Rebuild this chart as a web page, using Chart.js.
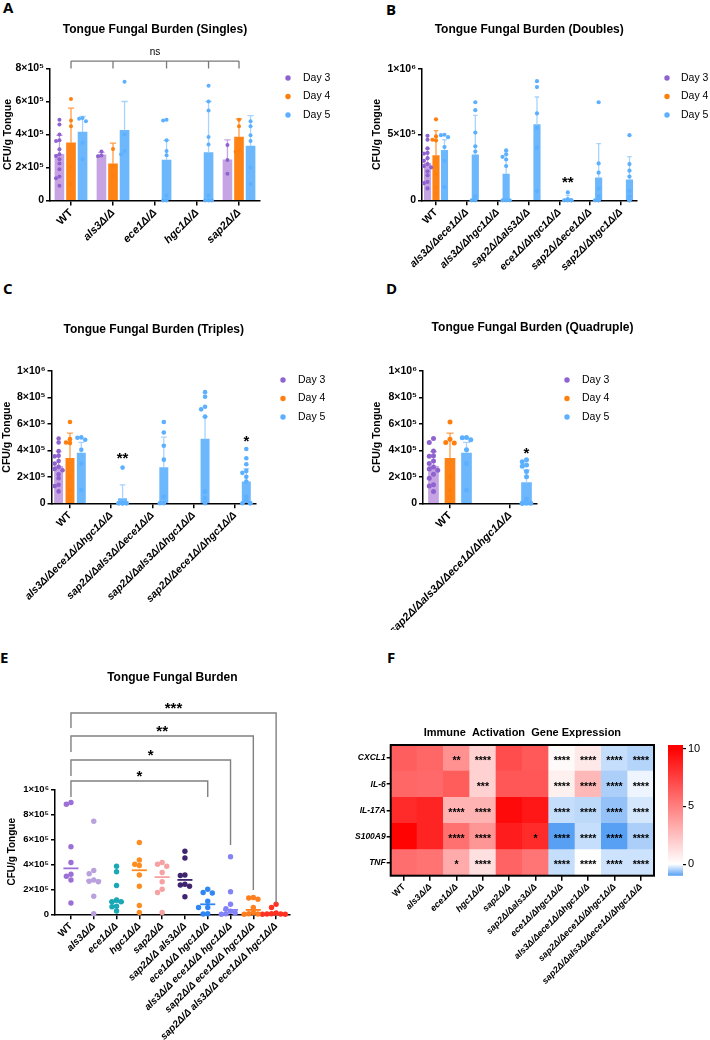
<!DOCTYPE html>
<html>
<head>
<meta charset="utf-8">
<title>Tongue fungal burden</title>
<script src="https://cdn.jsdelivr.net/npm/chart.js@4.4.1/dist/chart.umd.min.js"></script>
<style>
  html, body { margin: 0; background: #fff; }
  body { position: relative; width: 710px; height: 1040px; overflow: hidden; }
  canvas { position: absolute; }
  .tag { position: absolute; font: 700 15px/1 'Open Sans', sans-serif; color: #000; }
</style>
</head>
<body>
<div class="tag" style="left:3px;top:0px">A</div>
<div class="tag" style="left:386px;top:2px">B</div>
<div class="tag" style="left:3px;top:281px">C</div>
<div class="tag" style="left:386px;top:281px">D</div>
<div class="tag" style="left:0px;top:650px">E</div>
<div class="tag" style="left:387px;top:650px">F</div>

<canvas id="chartA" width="355" height="272" style="left:0;top:0"></canvas>
<canvas id="chartB" width="355" height="272" style="left:355px;top:0"></canvas>
<canvas id="chartC" width="355" height="360" style="left:0;top:270px"></canvas>
<canvas id="chartD" width="355" height="360" style="left:355px;top:270px"></canvas>
<canvas id="chartE" width="355" height="400" style="left:0;top:640px"></canvas>
<canvas id="chartF" width="355" height="400" style="left:355px;top:640px"></canvas>
<canvas id="chartScale" width="55" height="150" style="left:655px;top:735px"></canvas>

<script>
// all burdens are CFU/g tongue in units of 1e5
const dayLabels = ['Day 3', 'Day 4', 'Day 5'];

// A - singles
const singlesGroups = ['WT', 'als3Δ/Δ', 'ece1Δ/Δ', 'hgc1Δ/Δ', 'sap2Δ/Δ'];
const singlesMeanD3 = [2.8, 2.77, null, null, 2.47];
const singlesMeanD4 = [3.5, 2.23, null, null, 3.85];
const singlesMeanD5 = [4.15, 4.25, 2.45, 2.9, 3.3];
const singlesErrD3 = [1.15, 0.15, null, null, 1.2];
const singlesErrD4 = [2.1, 1.25, null, null, 1.1];
const singlesErrD5 = [0.95, 1.75, 1.2, 3.1, 1.85];
const singlesPtsD3 = [[4.9, 4.6, 4.0, 3.65, 3.6, 3.1, 2.8, 2.7, 2.5, 2.25, 1.9, 1.45, 1.35, 0.9], [2.97, 2.72, 2.68], [], [], [3.36, 2.45, 1.62]];
const singlesPtsD4 = [[6.15, 4.85, 4.5, 2.0, 1.0], [3.12, 2.1, 1.5], [], [], [4.9, 4.5, 3.05, 2.95]];
const singlesPtsD5 = [[5.0, 4.95, 4.8, 3.5, 2.5], [7.2, 4.0, 3.0, 2.8], [4.9, 4.85, 3.65, 3.0, 2.75, 0.3, 0, 0],
  [6.95, 6.0, 5.45, 3.85, 3.4, 0.3, 0, 0, 0], [4.8, 4.5, 3.95, 3.6, 2.0, 1.0]];

// WT control shown in B, C, D (day 3, 4, 5)
const wtMean = [2.8, 3.4, 3.8];
const wtErr = [1.1, 1.9, 0.8];
const wtPtsD3 = [4.9, 4.6, 3.95, 3.6, 3.55, 3.2, 3.0, 2.75, 2.6, 2.5, 2.2, 1.9, 1.4, 1.3, 0.9];
const wtPtsD4 = [6.15, 4.85, 4.6, 4.55, 2.0, 1.0, 0.5];
const wtPtsD5 = [4.98, 4.95, 4.8, 4.05, 3.0, 1.0];

// B - doubles (day 5 only)
const doublesGroups = ['WT', 'als3Δ/Δece1Δ/Δ', 'als3Δ/Δhgc1Δ/Δ', 'sap2Δ/Δals3Δ/Δ', 'ece1Δ/Δhgc1Δ/Δ', 'sap2Δ/Δece1Δ/Δ', 'sap2Δ/Δhgc1Δ/Δ'];
const doublesMeanD5 = [3.45, 2.0, 5.75, 0.12, 1.7, 1.55];
const doublesErrD5 = [3.0, 1.7, 2.1, 0.25, 2.6, 1.77];
const doublesPtsD5 = [[7.45, 6.85, 5.15, 4.1, 3.7, 0.3, 0, 0], [3.8, 3.5, 3.3, 3.1, 2.6, 0, 0, 0],
  [9.05, 8.6, 6.6, 5.5, 4.0, 0.7], [0.6, 0.1, 0, 0, 0, 0], [7.45, 2.8, 2.1, 0.9, 0.3, 0, 0, 0],
  [4.95, 2.75, 2.25, 1.8, 0.7, 0.3, 0, 0]];

// C - triples (day 5 only)
const triplesGroups = ['WT', 'als3Δ/Δece1Δ/Δhgc1Δ/Δ', 'sap2Δ/Δals3Δ/Δece1Δ/Δ', 'sap2Δ/Δals3Δ/Δhgc1Δ/Δ', 'sap2Δ/Δece1Δ/Δhgc1Δ/Δ'];
const triplesMeanD5 = [0.35, 2.7, 4.85, 1.62];
const triplesErrD5 = [1.05, 2.3, 1.7, 1.0];
const triplesPtsD5 = [[2.7, 0, 0, 0, 0, 0, 0, 0], [6.15, 5.35, 4.35, 3.3, 0.5, 0, 0],
  [8.4, 8.05, 7.3, 7.1, 6.55, 0.9, 0.4, 0], [4.1, 3.4, 2.95, 2.45, 2.3, 2.0, 1.65, 0.5, 0.2, 0, 0, 0]];

// D - quadruple (day 5 only)
const quadGroups = ['WT', 'sap2Δ/Δals3Δ/Δece1Δ/Δhgc1Δ/Δ'];
const quadMeanD5 = [1.56];
const quadErrD5 = [0.95];
const quadPtsD5 = [[3.3, 3.15, 2.9, 2.8, 2.4, 2.0, 0.3, 0, 0, 0, 0]];

// E - all strains, one time point
const eGroups = ['WT', 'als3Δ/Δ', 'ece1Δ/Δ', 'hgc1Δ/Δ', 'sap2Δ/Δ', 'sap2Δ/Δ als3Δ/Δ', 'ece1Δ/Δ hgc1Δ/Δ',
  'als3Δ/Δ ece1Δ/Δ hgc1Δ/Δ', 'sap2Δ/Δ ece1Δ/Δ hgc1Δ/Δ', 'sap2Δ/Δ als3Δ/Δ ece1Δ/Δ hgc1Δ/Δ'];
const ePoints = [
  [8.95, 8.8, 5.4, 4.15, 3.2, 3.05, 2.75, 0.9],
  [7.45, 3.5, 3.25, 2.75, 2.65, 2.6, 1.45, 0.05],
  [3.85, 3.4, 2.3, 1.15, 1.0, 1.0, 0.65, 0.6, 0.27],
  [5.75, 4.35, 4.0, 3.9, 3.15, 2.25, 0.7, 0.15],
  [4.15, 4.0, 3.85, 3.35, 2.6, 2.0, 1.75, 0.15],
  [5.05, 4.5, 3.15, 3.1, 2.4, 2.35, 2.25, 1.4],
  [2.0, 1.75, 1.7, 1.05, 0.55, 0.55, 0.05, 0.02],
  [4.6, 1.8, 0.8, 0.45, 0.25, 0.1, 0.05, 0],
  [1.35, 1.3, 1.2, 0.55, 0.15, 0.05, 0.02, 0],
  [0.8, 0.55, 0.1, 0.05, 0.03, 0.02, 0.01, 0]
];
const eColors = ['#9b6fd6', '#b8a1dd', '#19a8b5', '#fd8c21', '#f6a1a4', '#3f2570', '#2f86f5', '#8383f7', '#ff7f1f', '#ff3224'];
const eBrackets = [
  { to: 6, y: 10.66, left: 9.38, right: 9.38, text: '*' },
  { to: 7, y: 12.34, left: 11.06, right: 5.54, text: '*' },
  { to: 8, y: 14.26, left: 12.98, right: 1.94, text: '**' },
  { to: 9, y: 16.1, left: 14.9, right: 0.9, text: '***' }
];

// F - heat map (fold change)
const heatGenes = ['CXCL1', 'IL-6', 'IL-17A', 'S100A9', 'TNF'];
const heatStrains = ['WT', 'als3Δ/Δ', 'ece1Δ/Δ', 'hgc1Δ/Δ', 'sap2Δ/Δ', 'sap2Δ/Δals3Δ/Δ', 'ece1Δ/Δhgc1Δ/Δ',
  'als3Δ/Δece1Δ/Δhgc1Δ/Δ', 'sap2Δ/Δece1Δ/Δhgc1Δ/Δ', 'sap2Δ/Δals3Δ/Δece1Δ/Δhgc1Δ/Δ'];
const heatCXCL1 = [6.3, 6.0, 4.3, 1.8, 7.0, 6.5, 0.2, 0.9, -0.35, -0.45];
const heatIL6 = [6.0, 5.9, 6.4, 1.8, 6.6, 6.6, 0.6, 2.8, -0.5, -0.1];
const heatIL17A = [8.3, 8.6, 3.0, 3.0, 9.6, 9.1, -0.35, -0.4, -0.65, -0.25];
const heatS100A9 = [9.9, 8.6, 5.6, 4.1, 8.9, 8.3, -1.0, -0.35, -1.0, -0.5];
const heatTNF = [5.7, 5.5, 3.3, 1.2, 6.1, 5.4, -0.35, 0.05, -0.3, -0.3];
const starCXCL1 = ['', '', '**', '****', '', '', '****', '****', '****', '****'];
const starIL6 = ['', '', '', '***', '', '', '****', '****', '****', '****'];
const starIL17A = ['', '', '****', '****', '', '', '****', '****', '****', '****'];
const starS100A9 = ['', '', '****', '****', '', '*', '****', '****', '****', '****'];
const starTNF = ['', '', '*', '****', '', '', '****', '****', '****', '****'];
const cbarMin = -1, cbarMax = 10.3;
const cbarTicks = [0, 5, 10];

// ---------------------------------------------------------------
Chart.defaults.font.family = "'Liberation Sans', Arial, sans-serif";
Chart.defaults.color = '#000';

const DAY_OFF = [-0.275, 0, 0.275];
const DAY_BAR = ['#c6a4e3', '#ff8214', '#6db7fc'];
const DAY_PT = ['#8f63cf', '#ff7f0e', '#5cb0ff'];
const DAY_ERR = ['#c6a4e3', '#ff9d45', '#a8d3fc'];

function cfuTick(v) {
  if (v === 0) return '0';
  if (v >= 10) return (v / 10) + '×10⁶';
  return v + '×10⁵';
}

function heatColor(v) {
  if (v >= 0) {
    const t = Math.min(v / 10, 1);
    const c = Math.round(255 * (1 - t));
    return `rgb(255,${c},${c})`;
  }
  const t = Math.min(-v / 1.05, 1);
  return `rgb(${Math.round(255 - 175 * t)},${Math.round(255 - 100 * t)},${Math.round(255 - 12 * t)})`;
}

// spread overlapping dots sideways (only the x position is touched)
function swarm(vals, cx, pxX, pxY, r, maxK) {
  const placed = [];
  const step = 1.7 * r / pxX;
  return vals.map(v => {
    let best = null;
    for (let k = 0; k <= maxK * 2; k++) {
      const m = k === 0 ? 0 : (k % 2 ? -Math.ceil(k / 2) : k / 2);
      const x = cx + m * step;
      if (placed.every(p => Math.hypot((p.x - x) * pxX, (p.y - v) * pxY) >= 1.7 * r)) { best = x; break; }
    }
    if (best === null) best = cx + ((placed.length % 3) - 1) * step;
    const pt = { x: best, y: v };
    placed.push(pt);
    return pt;
  });
}

function median(arr) {
  const s = [...arr].sort((a, b) => a - b);
  const n = s.length;
  return n % 2 ? s[(n - 1) / 2] : (s[n / 2 - 1] + s[n / 2]) / 2;
}

const axisGrid = { drawOnChartArea: false, drawTicks: true, tickLength: 5, color: '#000', lineWidth: 1.5, offset: false };
const axisBorder = { color: '#000', width: 1.5 };

function padAxis(width) {
  return { position: 'right', display: true, grid: { display: false }, ticks: { display: false },
    border: { display: false }, afterFit: s => { s.width = width; } };
}

const errorBars = {
  id: 'errorBars',
  afterDatasetDraw(chart, args) {
    const ds = chart.data.datasets[args.index];
    if (!ds.errs) return;
    const { ctx, scales: { y } } = chart;
    ctx.save();
    ctx.strokeStyle = ds.errColor;
    ctx.lineWidth = 1.3;
    args.meta.data.forEach((el, i) => {
      const e = ds.errs[i];
      if (!e) return;
      const top = y.getPixelForValue(ds.data[i].y + e);
      const half = el.width * 0.35;
      ctx.beginPath();
      ctx.moveTo(el.x, el.y); ctx.lineTo(el.x, top);
      ctx.moveTo(el.x - half, top); ctx.lineTo(el.x + half, top);
      ctx.stroke();
    });
    ctx.restore();
  }
};

function legendDots(L) {
  return {
    id: 'legendDots',
    afterDraw(chart) {
      const ctx = chart.ctx;
      ctx.save();
      ctx.font = "10.5px 'Liberation Sans', Arial, sans-serif";
      ctx.textBaseline = 'middle';
      dayLabels.forEach((lab, i) => {
        const y = L.y + i * L.gap;
        ctx.fillStyle = DAY_PT[i];
        ctx.beginPath(); ctx.arc(L.x, y, 2.7, 0, Math.PI * 2); ctx.fill();
        ctx.fillStyle = '#000';
        ctx.fillText(lab, L.textX, y);
      });
      ctx.restore();
    }
  };
}

function drawStar(ctx, text, x, cy, size) {
  ctx.font = `bold ${size}px 'Liberation Sans', Arial, sans-serif`;
  ctx.textAlign = 'center';
  ctx.textBaseline = 'alphabetic';
  ctx.fillText(text, x, cy + size * 0.55);
}

function panelMarks(p) {
  return {
    id: 'panelMarks',
    afterDraw(chart) {
      const { ctx, scales: { x, y } } = chart;
      ctx.save();
      ctx.fillStyle = '#000';
      (p.stars || []).forEach(s => drawStar(ctx, s.text, x.getPixelForValue(s.group + DAY_OFF[2]), y.getPixelForValue(s.y), 15));
      if (p.bracket) {
        const b = p.bracket;
        const legs = p.groups.map((g, i) => {
          const offs = p.means.map((m, d) => (m[i] === null ? null : DAY_OFF[d])).filter(o => o !== null);
          return x.getPixelForValue(i + offs.reduce((a, c) => a + c, 0) / offs.length);
        });
        const yb = y.getPixelForValue(b.y), yl = y.getPixelForValue(b.legTo);
        ctx.strokeStyle = '#7a7a7a'; ctx.lineWidth = 1.3;
        ctx.beginPath();
        ctx.moveTo(legs[0], yb); ctx.lineTo(legs[legs.length - 1], yb);
        legs.forEach(lx => { ctx.moveTo(lx, yb); ctx.lineTo(lx, yl); });
        ctx.stroke();
        ctx.font = "10px 'Liberation Sans', Arial, sans-serif";
        ctx.textAlign = 'center'; ctx.textBaseline = 'middle';
        ctx.fillText(b.text, x.getPixelForValue(2), y.getPixelForValue(b.textY));
      }
      ctx.restore();
    }
  };
}

function barPanel(p) {
  const a = p.area;
  const pxX = (a.R - a.L) / (p.xmax - p.xmin);
  const pxY = (a.B - a.T) / p.yMax;
  const datasets = [];
  p.means.forEach((m, d) => {
    const data = [], errs = [];
    m.forEach((v, g) => {
      if (v !== null) { data.push({ x: g + DAY_OFF[d], y: v }); errs.push(p.errs[d][g]); }
    });
    datasets.push({ type: 'bar', label: dayLabels[d], data, errs, errColor: DAY_ERR[d],
      backgroundColor: DAY_BAR[d], borderWidth: 0, barThickness: p.barW, grouped: false, order: 1 });
  });
  p.points.forEach((grp, d) => {
    const data = [];
    grp.forEach((vals, g) => { data.push(...swarm(vals, g + DAY_OFF[d], pxX, pxY, p.ptR, 1)); });
    datasets.push({ type: 'scatter', label: dayLabels[d], data, pointRadius: p.ptR, pointBackgroundColor: DAY_PT[d],
      pointBorderWidth: 0, clip: false, order: 0 });
  });
  return new Chart(document.getElementById(p.id), {
    type: 'bar',
    data: { datasets },
    options: {
      responsive: false, animation: false, events: [], devicePixelRatio: 1,
      layout: { padding: 0 },
      plugins: {
        legend: { display: false }, tooltip: { enabled: false },
        title: { display: true, text: p.title, fullSize: p.titleFull, color: '#000',
          font: { size: 12, weight: 'bold' }, padding: { top: p.titleY - 7.2, bottom: a.T - p.titleY - 7.2 } }
      },
      scales: {
        x: {
          type: 'linear', min: p.xmin, max: p.xmax, offset: false,
          afterBuildTicks: s => { s.ticks = p.groups.map((g, i) => ({ value: i })); },
          afterFit: s => { s.height = p.h - a.B; },
          ticks: { autoSkip: false, minRotation: 45, maxRotation: 45, padding: 1, callback: v => p.groups[v],
            font: c => ({ size: p.xFont, weight: 'bold', style: c.index === 0 ? 'normal' : 'italic' }) },
          grid: axisGrid, border: axisBorder
        },
        y: {
          min: 0, max: p.yMax,
          afterFit: s => { s.width = a.L; },
          ticks: { stepSize: p.yStep, padding: 2, callback: cfuTick, font: { size: 10.5, weight: 'bold' } },
          grid: { ...axisGrid, tickLength: 4 }, border: axisBorder,
          title: { display: true, text: 'CFU/g Tongue', font: { size: 10.5, weight: 'bold' }, padding: { top: p.ylabelX - 6.3, bottom: 0 } }
        },
        yPad: padAxis(p.w - a.R)
      }
    },
    plugins: [errorBars, legendDots(p.legend), panelMarks(p)]
  });
}

const nulls = n => Array(n).fill(null);

barPanel({
  id: 'chartA', w: 355, h: 272, area: { L: 50, R: 260, T: 68.5, B: 200.5 },
  xmin: -0.5, xmax: 4.5, yMax: 8, yStep: 2, title: 'Tongue Fungal Burden (Singles)', titleY: 30, titleFull: false,
  ylabelX: 8.5, legend: { x: 288, y: 78, gap: 18.5, textX: 303 }, barW: 9, ptR: 2, xFont: 11,
  groups: singlesGroups,
  means: [singlesMeanD3, singlesMeanD4, singlesMeanD5],
  errs: [singlesErrD3, singlesErrD4, singlesErrD5],
  points: [singlesPtsD3, singlesPtsD4, singlesPtsD5],
  bracket: { y: 8.45, legTo: 8.0, text: 'ns', textY: 9.0 }
});

barPanel({
  id: 'chartB', w: 355, h: 272, area: { L: 67, R: 281.4, T: 68.7, B: 200.3 },
  xmin: -0.454, xmax: 6.5, yMax: 10, yStep: 5, title: 'Tongue Fungal Burden (Doubles)', titleY: 30, titleFull: false,
  ylabelX: 22, legend: { x: 312, y: 78, gap: 18.5, textX: 326 }, barW: 6.5, ptR: 2.1, xFont: 10.5,
  groups: doublesGroups,
  means: [[wtMean[0], ...nulls(6)], [wtMean[1], ...nulls(6)], [wtMean[2], ...doublesMeanD5]],
  errs: [[wtErr[0], ...nulls(6)], [wtErr[1], ...nulls(6)], [wtErr[2], ...doublesErrD5]],
  points: [[wtPtsD3, ...nulls(6).map(() => [])], [wtPtsD4, ...nulls(6).map(() => [])], [wtPtsD5, ...doublesPtsD5]],
  stars: [{ group: 4, y: 1.6, text: '**' }]
});

barPanel({
  id: 'chartC', w: 355, h: 360, area: { L: 51.5, R: 256, T: 101, B: 233.3 },
  xmin: -0.448, xmax: 4.51, yMax: 10, yStep: 2, title: 'Tongue Fungal Burden (Triples)', titleY: 60, titleFull: false,
  ylabelX: 7, legend: { x: 283, y: 110, gap: 18.5, textX: 298 }, barW: 8.3, ptR: 2.3, xFont: 10.5,
  groups: triplesGroups,
  means: [[wtMean[0], ...nulls(4)], [wtMean[1], ...nulls(4)], [wtMean[2], ...triplesMeanD5]],
  errs: [[wtErr[0], ...nulls(4)], [wtErr[1], ...nulls(4)], [wtErr[2], ...triplesErrD5]],
  points: [[wtPtsD3, [], [], [], []], [wtPtsD4, [], [], [], []], [wtPtsD5, ...triplesPtsD5]],
  stars: [{ group: 1, y: 3.65, text: '**' }, { group: 4, y: 4.95, text: '*' }]
});

barPanel({
  id: 'chartD', w: 355, h: 360, area: { L: 68, R: 182, T: 101, B: 233.3 },
  xmin: -0.45, xmax: 1.45, yMax: 10, yStep: 2, title: 'Tongue Fungal Burden (Quadruple)', titleY: 58, titleFull: true,
  ylabelX: 22, legend: { x: 212, y: 110, gap: 18.5, textX: 227 }, barW: 10, ptR: 2.5, xFont: 11,
  groups: quadGroups,
  means: [[wtMean[0], null], [wtMean[1], null], [wtMean[2], ...quadMeanD5]],
  errs: [[wtErr[0], null], [wtErr[1], null], [wtErr[2], ...quadErrD5]],
  points: [[wtPtsD3, []], [wtPtsD4, []], [wtPtsD5, ...quadPtsD5]],
  stars: [{ group: 1, y: 4.05, text: '*' }]
});

// ---- E: dot plot with medians and comparison brackets ----
(function () {
  const a = { L: 55, R: 289.8, T: 149.3, B: 274.3 }, W = 355, H = 400;
  const xmin = -0.7, xmax = 9.6, yMax = 10;
  const pxX = (a.R - a.L) / (xmax - xmin), pxY = (a.B - a.T) / yMax;
  const datasets = eGroups.map((g, i) => ({
    label: g, data: swarm(ePoints[i], i, pxX, pxY, 2.7, 3), pointRadius: 2.7,
    pointBackgroundColor: eColors[i], pointBorderWidth: 0, clip: false, med: median(ePoints[i]), lineColor: eColors[i]
  }));
  const medianLines = {
    id: 'medianLines',
    beforeDatasetsDraw(chart) {
      const { ctx, scales: { x, y } } = chart;
      ctx.save(); ctx.lineWidth = 1.8;
      chart.data.datasets.forEach((ds, i) => {
        const yy = y.getPixelForValue(ds.med);
        ctx.strokeStyle = ds.lineColor;
        ctx.beginPath(); ctx.moveTo(x.getPixelForValue(i - 0.33), yy); ctx.lineTo(x.getPixelForValue(i + 0.33), yy); ctx.stroke();
      });
      ctx.restore();
    }
  };
  const brackets = {
    id: 'brackets',
    afterDraw(chart) {
      const { ctx, scales: { x, y } } = chart;
      ctx.save();
      ctx.strokeStyle = '#808080'; ctx.lineWidth = 1.4; ctx.fillStyle = '#000';
      eBrackets.forEach(b => {
        const x0 = x.getPixelForValue(0), x1 = x.getPixelForValue(b.to), yb = y.getPixelForValue(b.y);
        ctx.beginPath();
        ctx.moveTo(x0, y.getPixelForValue(b.left)); ctx.lineTo(x0, yb); ctx.lineTo(x1, yb); ctx.lineTo(x1, y.getPixelForValue(b.right));
        ctx.stroke();
        drawStar(ctx, b.text, (x0 + x1) / 2, yb - 8, 15);
      });
      ctx.restore();
    }
  };
  new Chart(document.getElementById('chartE'), {
    type: 'scatter',
    data: { datasets },
    options: {
      responsive: false, animation: false, events: [], devicePixelRatio: 1,
      layout: { padding: 0 },
      plugins: {
        legend: { display: false }, tooltip: { enabled: false },
        title: { display: true, text: 'Tongue Fungal Burden', fullSize: false, color: '#000',
          font: { size: 12, weight: 'bold' }, padding: { top: 37.7 - 7.2, bottom: a.T - 37.7 - 7.2 } }
      },
      scales: {
        x: {
          type: 'linear', min: xmin, max: xmax, offset: false,
          afterBuildTicks: s => { s.ticks = eGroups.map((g, i) => ({ value: i })); },
          afterFit: s => { s.height = H - a.B; },
          ticks: { autoSkip: false, minRotation: 45, maxRotation: 45, padding: 1, callback: v => eGroups[v],
            font: c => ({ size: 10, weight: 'bold', style: c.index === 0 ? 'normal' : 'italic' }) },
          grid: axisGrid, border: axisBorder
        },
        y: {
          min: 0, max: yMax,
          afterFit: s => { s.width = a.L; },
          ticks: { stepSize: 2, padding: 2, callback: cfuTick, font: { size: 9.5, weight: 'bold' } },
          grid: { ...axisGrid, tickLength: 4 }, border: axisBorder,
          title: { display: true, text: 'CFU/g Tongue', font: { size: 10, weight: 'bold' }, padding: { top: 6, bottom: 0 } }
        },
        yPad: padAxis(W - a.R)
      }
    },
    plugins: [medianLines, brackets]
  });
})();

// ---- F: heat map as stacked unit bars, colour = value ----
(function () {
  const a = { L: 35.7, R: 299, T: 105, B: 235.7 }, W = 355, H = 400;
  const rows = [heatCXCL1, heatIL6, heatIL17A, heatS100A9, heatTNF];
  const stars = [starCXCL1, starIL6, starIL17A, starS100A9, starTNF];
  const datasets = rows.map((row, r) => ({
    label: heatGenes[r],
    data: row.map((v, c) => ({ x: heatStrains[c], y: 1, v, s: stars[r][c] })),
    backgroundColor: c => (c.raw ? heatColor(c.raw.v) : '#fff'),
    borderWidth: 0, barPercentage: 1, categoryPercentage: 1, stack: 'cells'
  })).reverse();
  const cellStars = {
    id: 'cellStars',
    afterDatasetsDraw(chart) {
      const ctx = chart.ctx;
      ctx.save(); ctx.fillStyle = '#000';
      chart.data.datasets.forEach((ds, i) => {
        chart.getDatasetMeta(i).data.forEach((el, j) => {
          const s = ds.data[j].s;
          if (s) drawStar(ctx, s, el.x, (el.y + el.base) / 2, 10.5);
        });
      });
      const ca = chart.chartArea;
      ctx.strokeStyle = '#000'; ctx.lineWidth = 2;
      ctx.strokeRect(ca.left, ca.top, ca.right - ca.left, ca.bottom - ca.top);
      ctx.restore();
    }
  };
  new Chart(document.getElementById('chartF'), {
    type: 'bar',
    data: { labels: heatStrains, datasets },
    options: {
      responsive: false, animation: false, events: [], devicePixelRatio: 1,
      layout: { padding: 0 },
      plugins: {
        legend: { display: false }, tooltip: { enabled: false },
        title: { display: true, text: 'Immune  Activation  Gene Expression', fullSize: false, color: '#000',
          font: { size: 11, weight: 'bold' }, padding: { top: 92.7 - 6.6, bottom: a.T - 92.7 - 6.6 } }
      },
      scales: {
        x: {
          stacked: true, offset: true,
          afterFit: s => { s.height = H - a.B; },
          ticks: { autoSkip: false, minRotation: 45, maxRotation: 45, padding: 1,
            font: c => ({ size: 9, weight: 'bold', style: c.index === 0 ? 'normal' : 'italic' }) },
          grid: { ...axisGrid, tickLength: 5 }, border: { display: false }
        },
        y: {
          stacked: true, min: 0, max: 5,
          afterBuildTicks: s => { s.ticks = heatGenes.map((g, i) => ({ value: 4.5 - i })); },
          afterFit: s => { s.width = a.L; },
          ticks: { padding: 1, callback: v => heatGenes[Math.round(4.5 - v)], font: { size: 8.5, weight: 'bold', style: 'italic' } },
          grid: { ...axisGrid, tickLength: 4 }, border: { display: false }
        },
        yPad: padAxis(W - a.R)
      }
    },
    plugins: [cellStars]
  });

  // colour bar
  const scaleFill = c => {
    const chart = c.chart;
    if (!chart.chartArea) return '#fff';
    const y = chart.scales.y;
    const g = chart.ctx.createLinearGradient(0, y.getPixelForValue(cbarMin), 0, y.getPixelForValue(cbarMax));
    [-1, 0, 10].forEach(v => g.addColorStop((v - cbarMin) / (cbarMax - cbarMin), heatColor(v)));
    return g;
  };
  new Chart(document.getElementById('chartScale'), {
    type: 'bar',
    data: { labels: [''], datasets: [{ data: [[cbarMin, cbarMax]], backgroundColor: scaleFill, borderWidth: 0,
      barPercentage: 1, categoryPercentage: 1 }] },
    options: {
      responsive: false, animation: false, events: [], devicePixelRatio: 1,
      layout: { padding: { left: 13, top: 10, bottom: 9.3, right: 0 } },
      plugins: { legend: { display: false }, tooltip: { enabled: false } },
      scales: {
        x: { display: false },
        y: {
          position: 'right', min: cbarMin, max: cbarMax,
          afterBuildTicks: s => { s.ticks = cbarTicks.map(v => ({ value: v })); },
          afterFit: s => { s.width = 27; },
          ticks: { padding: 2, font: { size: 11 } },
          grid: { drawOnChartArea: false, tickLength: 3, color: '#000', lineWidth: 1.2 }, border: { display: false }
        }
      }
    }
  });
})();
</script>
</body>
</html>
